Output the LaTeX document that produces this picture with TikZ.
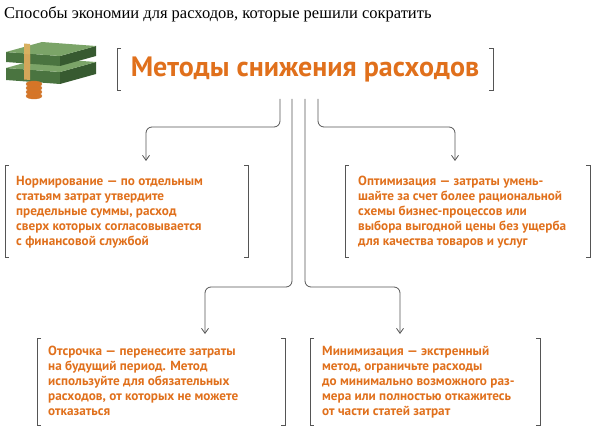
\documentclass[tikz,border=0pt]{standalone}
\usepackage{fontspec}
\usetikzlibrary{arrows.meta}
\setmainfont{Liberation Serif}
\newfontfamily\ptsans{PT Sans}
\definecolor{org}{HTML}{E0701C}
\definecolor{lgrey}{HTML}{555555}
\definecolor{mgreen}{HTML}{7BA468}
\definecolor{dgreen}{HTML}{4A7440}
\definecolor{ddgreen}{HTML}{375A30}
\definecolor{tan}{HTML}{D8B060}
\begin{document}
\begin{tikzpicture}[x=1pt,y=-1pt,
  txt/.style={font=\ptsans\bfseries\fontsize{13.2}{15}\selectfont,text=org,align=left,anchor=north west,inner sep=0},
  brk/.style={draw=lgrey,line width=0.8pt},
  conn/.style={draw=lgrey,line width=0.8pt,rounded corners=6pt},
  arr/.style={conn,-{Straight Barb[length=5pt,width=7pt]}}]
\useasboundingbox (0,0) rectangle (600,433);
\node[anchor=west,inner sep=0,font=\fontsize{16.5}{18}\selectfont] (hdr) at (4,14) {Способы экономии для расходов, которые решили сократить};
% money icon: bottom stack
\fill[dgreen] (6,68)--(60,72)--(60,84)--(6,80)--cycle;
\fill[ddgreen] (60,72)--(96,62)--(96,74)--(60,84)--cycle;
\fill[mgreen] (6,68)--(60,72)--(96,62)--(42,58)--cycle;
% top stack
\fill[dgreen] (6,52)--(60,56)--(60,66)--(6,62)--cycle;
\fill[ddgreen] (60,56)--(96,46)--(96,56)--(60,66)--cycle;
\fill[mgreen] (6,52)--(60,56)--(96,46)--(42,42)--cycle;
% band
\fill[tan] (24,43.5)--(30,44)--(30,66)--(24,65.5)--cycle;
\fill[tan!80!brown] (24,54)--(30,54.5)--(30,80)--(24,79.5)--cycle;
\foreach \yy in {96,92,88,84} {\fill[org!70!brown] (34,\yy) ellipse (8 and 3);\draw[org!40!brown,line width=0.4pt] (34,\yy) ellipse (8 and 3);}
% title
\node[font=\ptsans\bfseries\fontsize{28}{30}\selectfont,text=org,inner sep=0] (title) at (305,70) {Методы снижения расходов};
\draw[brk] (121,48)--(117,48)--(117,90)--(121,90);
\draw[brk] (489,48)--(493,48)--(493,90)--(489,90);
% boxes
\node[txt] (b1) at (16,176) {Нормирование — по отдельным\\статьям затрат утвердите\\предельные суммы, расход\\сверх которых согласовывается\\с финансовой службой};
\draw[brk] (9,165)--(5,165)--(5,257)--(9,257);
\draw[brk] (244,165)--(248,165)--(248,257)--(244,257);
\node[txt] (b2) at (358,176) {Оптимизация — затраты умень-\\шайте за счет более рациональной\\схемы бизнес-процессов или\\выбора выгодной цены без ущерба\\для качества товаров и услуг};
\draw[brk] (349,165)--(345,165)--(345,257)--(349,257);
\draw[brk] (586,165)--(590,165)--(590,257)--(586,257);
\node[txt] (b3) at (48,346) {Отсрочка — перенесите затраты\\на будущий период. Метод\\используйте для обязательных\\расходов, от которых не можете\\отказаться};
\draw[brk] (41,338)--(37,338)--(37,425)--(41,425);
\draw[brk] (281,338)--(285,338)--(285,425)--(281,425);
\node[txt] (b4) at (322,346) {Минимизация — экстренный\\метод, ограничьте расходы\\до минимально возможного раз-\\мера или полностью откажитесь\\от части статей затрат};
\draw[brk] (314,338)--(310,338)--(310,425)--(314,425);
\draw[brk] (536,338)--(540,338)--(540,425)--(536,425);
% connectors
\coordinate (e1) at (146,161); \coordinate (e2) at (205,334);
\coordinate (e3) at (400,334); \coordinate (e4) at (455,161);
\draw[arr] (280,99)--(280,127)--(146,127)--(e1);
\draw[arr] (292,99)--(292,287)--(205,287)--(e2);
\draw[arr] (305,99)--(305,287)--(400,287)--(e3);
\draw[arr] (318,99)--(318,127)--(455,127)--(e4);
\end{tikzpicture}
\end{document}
